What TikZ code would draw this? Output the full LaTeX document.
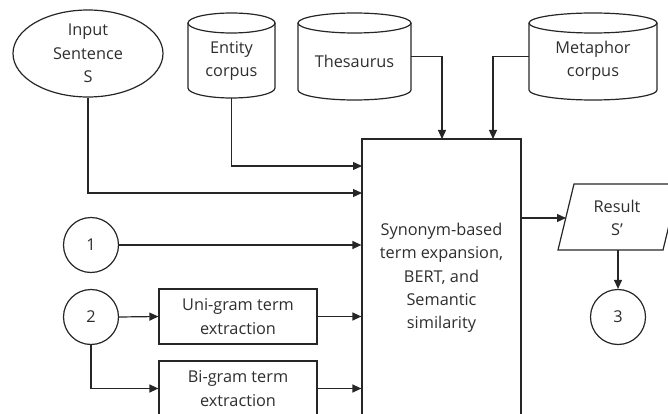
\documentclass[tikz,border=0pt]{standalone}
\usepackage{fontspec}
\setmainfont{Open Sans}
\usetikzlibrary{shapes.geometric,arrows.meta}
\tikzset{
  ln/.style={draw=black!85, line width=1.2pt},
  arr/.style={ln, -{Triangle[length=9pt,width=8pt]}},
  txt/.style={text=black!82, font=\fontsize{16.3}{23.3}\selectfont, align=center, inner sep=0pt},
  boxn/.style={ln, txt, rectangle, minimum width=158pt, minimum height=55pt},
  circn/.style={ln, txt, circle, minimum size=55pt},
  areaN/.style={inner sep=0pt, outer sep=0pt, rectangle}
}
\newcommand\mycyl[6]{% name, cx, ytop, ybot, rx, text
  \draw[ln] (#2,#3+10) ellipse[x radius=#5, y radius=10];
  \draw[ln] (#2-#5,#3+10) -- (#2-#5,#4-10) arc[start angle=180, end angle=0, x radius=#5, y radius=10] -- (#2+#5,#3+10);
  \node[areaN, minimum width=2*#5 pt, minimum height=#4-#3 pt] (#1) at (#2,{(#3+#4)/2}) {};
  \node[txt] (#1-t) at (#2,61) {#6};
}
\begin{document}
\begin{tikzpicture}[x=1pt,y=-1pt]
\useasboundingbox (0,0) rectangle (668,414);
% input ellipse
\node[ln, txt, ellipse, minimum width=150pt, minimum height=87pt] (inp) at (88,53.5) {Input\\Sentence\\S};
% cylinders
\mycyl{ent}{231.5}{13}{98}{43.5}{Entity\\corpus}
\mycyl{thes}{354.5}{13}{100}{56.5}{Thesaurus}
\mycyl{meta}{593}{13}{100}{64}{Metaphor\\corpus}
% main box
\node[ln, txt, rectangle, minimum width=159pt, minimum height=278pt] (main) at (441.5,278) {Synonym-based\\term expansion,\\BERT, and\\Semantic\\similarity};
% circles
\node[circn] (c1) at (91,245) {1};
\node[circn] (c2) at (91,317) {2};
\node[circn] (c3) at (618,317) {3};
% term boxes
\node[boxn] (uni) at (238,316.5) {Uni-gram term\\extraction};
\node[boxn] (bi) at (238,388.5) {Bi-gram term\\extraction};
% result parallelogram
\coordinate (rbl) at (558,250);
\coordinate (rbr) at (663,250);
\coordinate (rtl) at (574,184);
\coordinate (rtr) at (679,184);
\draw[ln] (rbl) -- (rtl) -- (rtr) -- (rbr) -- cycle;
\node[txt] (res) at (617,218) {Result\\S’};
\coordinate (resin) at (566,218);
\coordinate (resout) at (618,250);
% ports on main box
\coordinate (m0) at (362,166);
\coordinate (m1) at (362,193);
\coordinate (t1) at (442,139);
\coordinate (t2) at (493,139);
\coordinate (mo) at (521,218);
% connectors
\draw[arr] (ent.south) |- (m0);
\draw[arr] (inp.south) |- (m1);
\draw[arr] (thes.east) -| (t1);
\draw[arr] (meta.west) -| (t2);
\draw[arr] (c1.east) -- (c1.east -| main.west);
\draw[arr] (c2.east) -- (uni.west);
\draw[arr] (c2.south) |- (bi.west);
\draw[arr] (uni.east) -- (uni.east -| main.west);
\draw[arr] (bi.east) -- (bi.east -| main.west);
\draw[arr] (mo) -- (resin);
\draw[arr] (resout) -- (c3.north);
\end{tikzpicture}
\end{document}
